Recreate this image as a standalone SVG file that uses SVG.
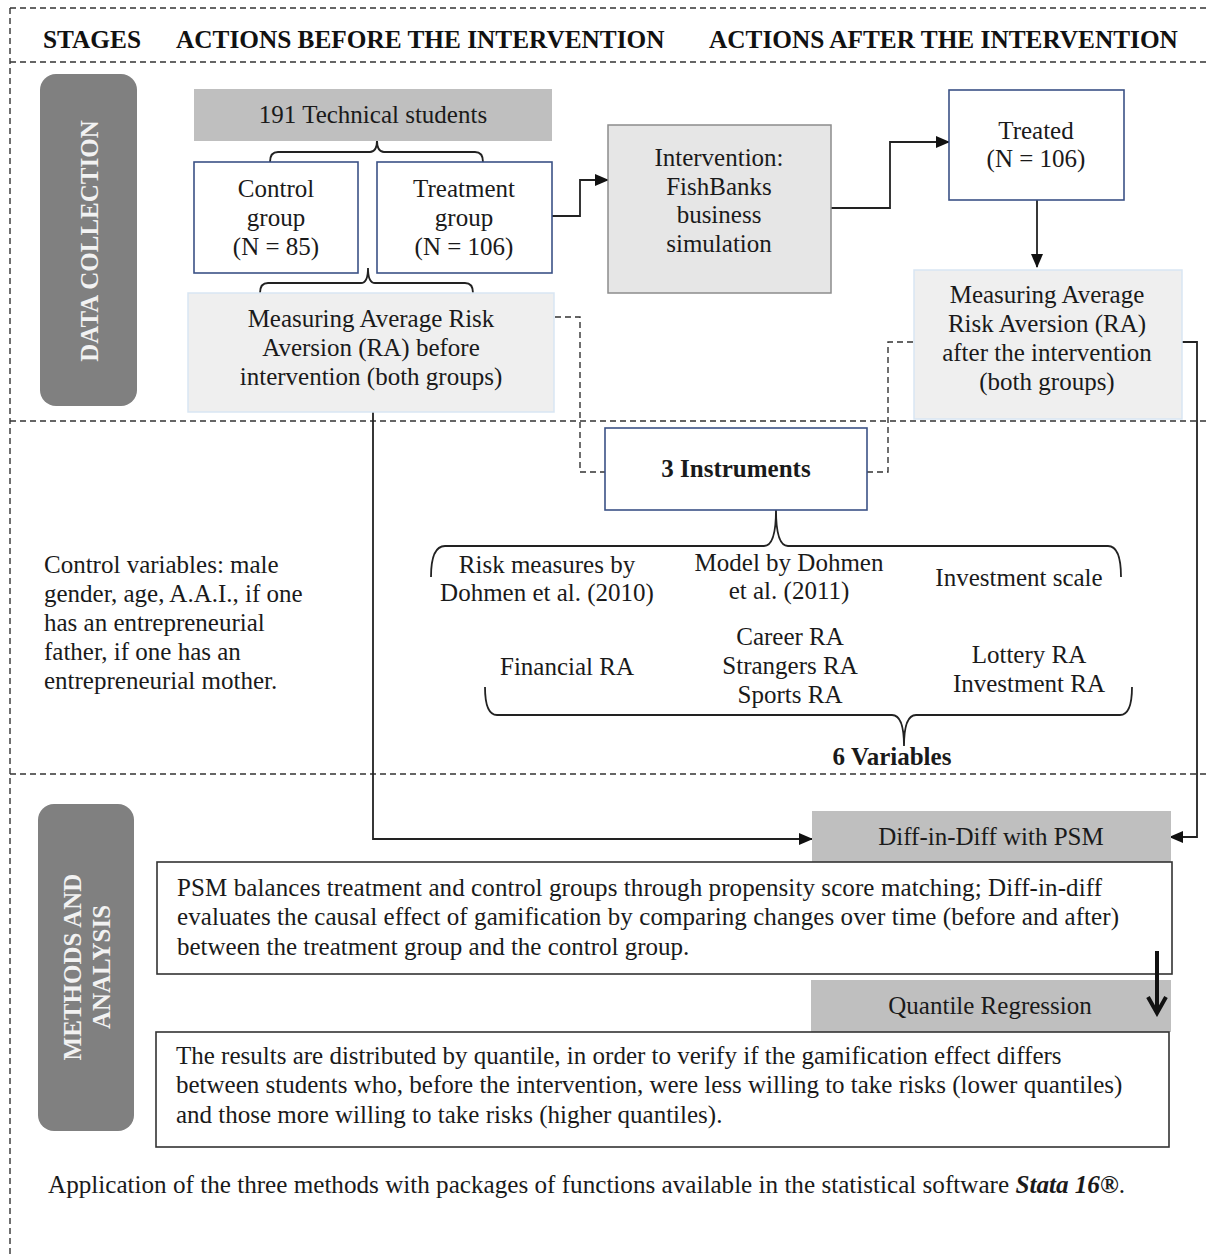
<svg xmlns="http://www.w3.org/2000/svg" width="1210" height="1256" viewBox="0 0 1210 1256">
<style>
text{font-family:"Liberation Serif","Times New Roman",serif;font-size:25px;fill:#1a1a1a}
.c{text-anchor:middle}
.b{font-weight:bold}
.hd{font-weight:bold;font-size:25.3px;fill:#111}
.side{font-weight:bold;fill:#f2f2f2;text-anchor:middle}
.dash{fill:none;stroke:#333;stroke-width:1.4;stroke-dasharray:6 4}
.ln{fill:none;stroke:#222;stroke-width:1.8}
.blue{fill:#fff;stroke:#3b5286;stroke-width:1.6}
.meas{fill:#efefef;stroke:#d9e6f3;stroke-width:1.5}
.grey{fill:#bfbfbf}
.wbox{fill:#fff;stroke:#333;stroke-width:1.6}
</style>
<defs>
<marker id="ah" markerWidth="14" markerHeight="14" refX="13" refY="7" orient="auto" markerUnits="userSpaceOnUse">
<path d="M0,1 L14,7 L0,13 Z" fill="#111"/>
</marker>
<marker id="oah" markerWidth="24" markerHeight="24" refX="20" refY="12" orient="auto" markerUnits="userSpaceOnUse">
<path d="M4,3 L20,12 L4,21" fill="none" stroke="#111" stroke-width="4"/>
</marker>
</defs>
<rect width="1210" height="1256" fill="#fff"/>

<g id="frame">
<path class="dash" d="M10,8 H1210 M10,8 V1256"/>
<path class="dash" d="M10,62 H1210 M10,421 H1210 M10,774 H1210"/>
</g>

<g id="headers">
<text class="hd" x="43" y="48">STAGES</text>
<text class="hd" x="176" y="48">ACTIONS BEFORE THE INTERVENTION</text>
<text class="hd" x="709" y="48">ACTIONS AFTER THE INTERVENTION</text>
</g>

<g id="stage-data-collection">
<rect x="40" y="74" width="97" height="332" rx="16" fill="#808080"/>
<text class="side" transform="translate(98,241) rotate(-90)">DATA COLLECTION</text>
</g>

<g id="stage-methods">
<rect x="38" y="804" width="96" height="327" rx="16" fill="#808080"/>
<text class="side" transform="translate(81,967) rotate(-90)">METHODS AND</text>
<text class="side" transform="translate(110,967) rotate(-90)">ANALYSIS</text>
</g>

<g id="connectors">
<path class="ln" d="M270,162 Q270,152 278,152 H370 Q377,152 377,140 Q377,152 384,152 H475 Q483,152 483,162"/>
<path class="ln" d="M260,293 Q260,283 268,283 H361 Q368,283 368,268 Q368,283 375,283 H465 Q473,283 473,293"/>
<path class="ln" d="M552,216 H580 V180 H608" marker-end="url(#ah)"/>
<path class="ln" d="M831,208 H890 V142 H949" marker-end="url(#ah)"/>
<path class="ln" d="M1037,200 V267" marker-end="url(#ah)"/>
<path class="dash" d="M555,317 H580 V472 H605"/>
<path class="dash" d="M913,342 H888 V472 H867"/>
<path class="ln" d="M373,412 V839 H812" marker-end="url(#ah)"/>
<path class="ln" d="M1182,342 H1197 V837 H1170" marker-end="url(#ah)"/>
<path class="ln" d="M431,577 Q431,546 445,546 H764 Q776,546 776,510 Q776,546 788,546 H1108 Q1121,546 1121,577"/>
<path class="ln" d="M485,687 Q485,715 497,715 H892 Q904,715 904,746 Q904,715 916,715 H1120 Q1132,715 1132,687"/>
</g>

<g id="n-students">
<rect class="grey" x="194" y="89" width="358" height="52"/>
<text class="c" x="373" y="123">191 Technical students</text>
</g>

<g id="n-control">
<rect class="blue" x="194" y="162" width="164" height="111"/>
<text class="c" x="276" y="197">Control</text>
<text class="c" x="276" y="226">group</text>
<text class="c" x="276" y="255">(N = 85)</text>
</g>

<g id="n-treatment">
<rect class="blue" x="377" y="162" width="175" height="111"/>
<text class="c" x="464" y="197">Treatment</text>
<text class="c" x="464" y="226">group</text>
<text class="c" x="464" y="255">(N = 106)</text>
</g>

<g id="n-measure-before">
<rect class="meas" x="188" y="293" width="366" height="119"/>
<text class="c" x="371" y="327">Measuring Average Risk</text>
<text class="c" x="371" y="356">Aversion (RA) before</text>
<text class="c" x="371" y="385">intervention (both groups)</text>
</g>

<g id="n-intervention">
<rect x="608" y="125" width="223" height="168" fill="#e6e6e6" stroke="#8c8c8c" stroke-width="1.5"/>
<text class="c" x="719" y="166">Intervention:</text>
<text class="c" x="719" y="195">FishBanks</text>
<text class="c" x="719" y="223">business</text>
<text class="c" x="719" y="252">simulation</text>
</g>

<g id="n-treated">
<rect class="blue" x="949" y="90" width="175" height="110"/>
<text class="c" x="1036" y="139">Treated</text>
<text class="c" x="1036" y="167">(N = 106)</text>
</g>

<g id="n-measure-after">
<rect class="meas" x="914" y="270" width="268" height="149"/>
<text class="c" x="1047" y="303">Measuring Average</text>
<text class="c" x="1047" y="332">Risk Aversion (RA)</text>
<text class="c" x="1047" y="361">after the intervention</text>
<text class="c" x="1047" y="390">(both groups)</text>
</g>

<g id="n-instruments">
<rect class="blue" x="605" y="428" width="262" height="82"/>
<text class="c b" x="736" y="477">3 Instruments</text>
</g>

<g id="n-control-vars">
<text x="44" y="573">Control variables: male</text>
<text x="44" y="602">gender, age, A.A.I., if one</text>
<text x="44" y="631">has an entrepreneurial</text>
<text x="44" y="660">father, if one has an</text>
<text x="44" y="689">entrepreneurial mother.</text>
</g>

<g id="n-risk-measures">
<text class="c" x="547" y="573">Risk measures by</text>
<text class="c" x="547" y="601">Dohmen et al. (2010)</text>
</g>
<g id="n-model">
<text class="c" x="789" y="571">Model by Dohmen</text>
<text class="c" x="789" y="599">et al. (2011)</text>
</g>
<g id="n-investment-scale">
<text class="c" x="1019" y="586">Investment scale</text>
</g>
<g id="n-financial">
<text class="c" x="567" y="675">Financial RA</text>
</g>
<g id="n-career">
<text class="c" x="790" y="645">Career RA</text>
<text class="c" x="790" y="674">Strangers RA</text>
<text class="c" x="790" y="703">Sports RA</text>
</g>
<g id="n-lottery">
<text class="c" x="1029" y="663">Lottery RA</text>
<text class="c" x="1029" y="692">Investment RA</text>
</g>
<g id="n-variables">
<text class="c b" x="892" y="765">6 Variables</text>
</g>

<g id="n-did">
<rect class="grey" x="812" y="811" width="359" height="51"/>
<text class="c" x="991" y="845">Diff-in-Diff with PSM</text>
</g>

<g id="n-psm-text">
<rect class="wbox" x="157" y="862" width="1015" height="112"/>
<text x="177" y="896" textLength="925" lengthAdjust="spacing">PSM balances treatment and control groups through propensity score matching; Diff-in-diff</text>
<text x="177" y="925" textLength="942" lengthAdjust="spacing">evaluates the causal effect of gamification by comparing changes over time (before and after)</text>
<text x="177" y="955">between the treatment group and the control group.</text>
</g>

<g id="n-quantile">
<rect class="grey" x="811" y="980" width="360" height="52"/>
<text class="c" x="990" y="1014">Quantile Regression</text>
</g>

<g id="n-results-text">
<rect class="wbox" x="156" y="1032" width="1013" height="115"/>
<text x="176" y="1064">The results are distributed by quantile, in order to verify if the gamification effect differs</text>
<text x="176" y="1093">between students who, before the intervention, were less willing to take risks (lower quantiles)</text>
<text x="176" y="1123">and those more willing to take risks (higher quantiles).</text>
</g>

<g id="connector-flow">
<path fill="none" stroke="#111" stroke-width="4" d="M1157,951 V1013" marker-end="url(#oah)"/>
</g>

<g id="n-footer">
<text x="48" y="1193" textLength="1077" lengthAdjust="spacingAndGlyphs">Application of the three methods with packages of functions available in the statistical software <tspan font-weight="bold" font-style="italic">Stata 16®</tspan>.</text>
</g>
</svg>
